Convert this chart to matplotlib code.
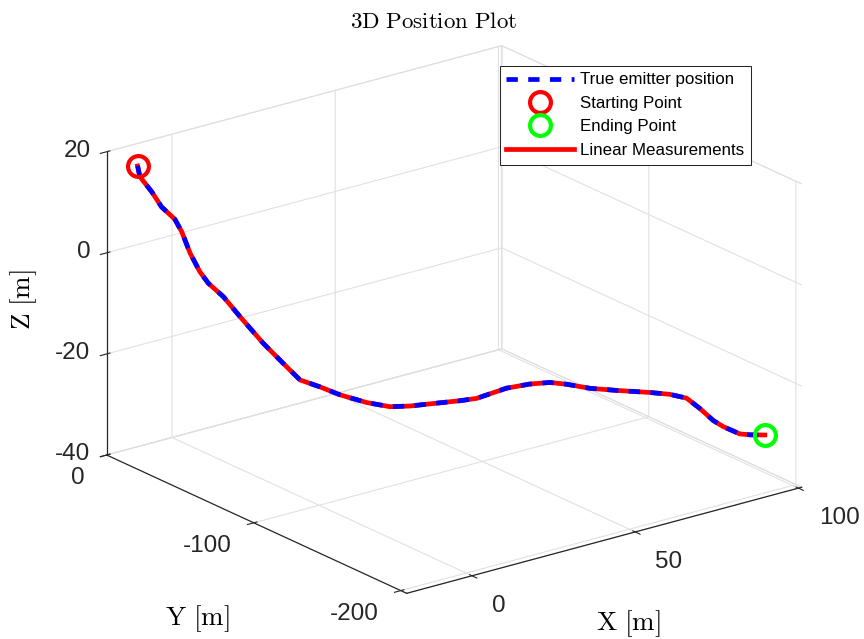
import numpy as np
import matplotlib
matplotlib.use('Agg')
import matplotlib.pyplot as plt
from mpl_toolkits.mplot3d import proj3d

# ---------------- data ----------------
x_true = [-20.0, -19.6, -17.5, -15.8, -13.5, -12.3, -10.8, -9.1, -7.6, -5.0,
          -2.1, 2.0, 5.5, 8.4, 11.9, 15.4, 20.1, 24.1, 27.6, 32.9,
          36.4, 39.3, 44.5, 48.6, 52.1, 55.0, 59.1, 63.8, 69.6, 73.1,
          76.0, 78.3, 80.7, 82.4, 85.3, 87.1, 89.7]
y_true = [-21.0, -21.7, -25.1, -28.0, -31.9, -33.9, -36.3, -39.2, -41.6, -46.0,
          -50.9, -57.7, -63.5, -68.4, -74.2, -80.0, -87.8, -94.6, -100.4, -109.2,
          -115.1, -119.9, -128.7, -135.4, -141.3, -146.2, -153.0, -160.7, -170.5, -176.3,
          -181.2, -185.0, -188.9, -191.8, -196.7, -199.7, -204.0]
z_true = [20.0, 17.9, 15.0, 12.1, 9.8, 7.4, 3.2, -0.4, -2.6, -5.1,
          -8.9, -14.0, -17.8, -20.9, -22.1, -23.5, -24.8, -25.4, -25.1, -24.2,
          -23.6, -23.0, -20.7, -19.7, -19.2, -19.4, -20.0, -20.2, -20.3, -20.5,
          -21.1, -23.0, -25.3, -26.4, -27.7, -27.8, -27.7]
# linear measurements coincide with the true path at this scale
x_meas = list(x_true)
y_meas = list(y_true)
z_meas = list(z_true)

x_ticks = [0, 50, 100]
y_ticks = [-200, -100, 0]
z_ticks = [-40, -20, 0, 20]
x_ticklabels = ['0', '50', '100']
y_ticklabels = ['-200', '-100', '0']
z_ticklabels = ['-40', '-20', '0', '20']
x_lim = (-20, 101)
y_lim = (-204, 0)
z_lim = (-40, 20)

labels = ['True emitter position', 'Starting Point', 'Ending Point', 'Linear Measurements']

# ---------------- style ----------------
plt.rcParams['font.family'] = ['Liberation Sans', 'DejaVu Sans']
plt.rcParams['mathtext.fontset'] = 'cm'
plt.rcParams['axes.unicode_minus'] = False
plt.rcParams['grid.color'] = '#dfdfdf'
plt.rcParams['grid.linewidth'] = 0.75
plt.rcParams['axes.edgecolor'] = '#262626'
plt.rcParams['axes.linewidth'] = 0.9
plt.rcParams['xtick.color'] = '#262626'
plt.rcParams['ytick.color'] = '#262626'

W, H = 864, 639
fig = plt.figure(figsize=(W / 100, H / 100), dpi=100)
ax = fig.add_axes([0, 0, 1, 1], projection='3d', proj_type='ortho')
ax.computed_zorder = False
ax.view_init(elev=20.6, azim=-127.35)
ax.set_box_aspect((1, 0.995, 0.652))

ax.set_xlim(*x_lim, view_margin=0)
ax.set_ylim(*y_lim, view_margin=0)
ax.set_zlim(*z_lim, view_margin=0)

ax.xaxis.set_tick_params(pad=11, labelsize=17.5, colors='#262626')
ax.yaxis.set_tick_params(pad=8, labelsize=17.5, colors='#262626')
ax.zaxis.set_tick_params(pad=-1.4, labelsize=17.5, colors='#262626')
ax.set_xticks(x_ticks, labels=x_ticklabels, ha='left', va='center')
ax.set_yticks(y_ticks, labels=y_ticklabels, ha='right', va='center')
ax.set_zticks(z_ticks, labels=z_ticklabels, ha='right', va='center')

for axis in (ax.xaxis, ax.yaxis, ax.zaxis):
    axis.set_pane_color((1, 1, 1, 1))
    axis.pane.set_edgecolor('#dfdfdf')
    axis.pane.set_linewidth(0.75)

lw = 3.4
meas_line, = ax.plot(x_meas, y_meas, z_meas, color='red', lw=lw, zorder=2)
true_line, = ax.plot(x_true, y_true, z_true, color='blue', lw=lw,
                     dashes=(2.4, 2.2), zorder=3)
start_pt, = ax.plot([x_true[0]], [y_true[0]], [z_true[0]], 'o', ms=15,
                    mfc='none', mec='red', mew=3, zorder=4)
end_pt, = ax.plot([x_true[-1]], [y_true[-1]], [z_true[-1]], 'o', ms=15,
                  mfc='none', mec=(0, 1, 0), mew=3, zorder=4)

ax.set_xlabel(r'$\mathrm{X\ [m]}$', fontsize=19.5, labelpad=32)
ax.set_ylabel(r'$\mathrm{Y\ [m]}$', fontsize=19.5, labelpad=44)
ax.set_zlabel(r'$\mathrm{Z\ [m]}$', fontsize=19.5, labelpad=12.5)
for axis in (ax.xaxis, ax.yaxis, ax.zaxis):
    axis.set_rotate_label(False)
ax.xaxis.label.set_rotation(0)
ax.yaxis.label.set_rotation(0)
ax.zaxis.label.set_rotation(90)
ax.xaxis._axinfo['label']['ha'] = 'right'
ax.yaxis._axinfo['label']['ha'] = 'left'

leg = ax.legend([true_line, start_pt, end_pt, meas_line], labels,
                loc='upper right', bbox_to_anchor=(751 / W, 1 - 65.7 / H),
                bbox_transform=fig.transFigure, borderaxespad=0,
                fontsize=12.2, handlelength=4.0, handletextpad=0.35,
                labelspacing=0.5, borderpad=0.4, fancybox=False,
                framealpha=1, edgecolor='#262626')
leg.get_frame().set_linewidth(0.75)

fig.suptitle(r'$\mathrm{3D\ Position\ Plot}$', x=0.502, y=1 - 21 / H,
             va='center', fontsize=16.5)

# ---------------- fit the 3D box onto the reference layout ----------------
fig.canvas.draw()
M = ax.get_proj()
cx = np.array([x_lim[0], x_lim[0], x_lim[1], x_lim[0]], float)
cy = np.array([y_lim[1], y_lim[0], y_lim[0], y_lim[1]], float)
cz = np.array([z_lim[0], z_lim[0], z_lim[0], z_lim[1]], float)
px, py, _ = proj3d.proj_transform(cx, cy, cz, M)
pix = ax.transData.transform(np.column_stack([px, py]))
fr = ax.transAxes.inverted().transform(pix)
# target corner pixels (origin bottom-left): left-bottom, front-bottom, right-bottom, left-top
tgt = np.array([[106.7, H - 455.0], [406.7, H - 593.3], [801.7, H - 487.3], [106.7, H - 151.7]])
A = np.zeros((8, 3))
b = np.zeros(8)
for i in range(4):
    A[2 * i] = [1, 0, fr[i, 0]]
    b[2 * i] = tgt[i, 0]
    A[2 * i + 1] = [0, 1, fr[i, 1]]
    b[2 * i + 1] = tgt[i, 1]
x0, y0, S = np.linalg.lstsq(A, b, rcond=None)[0]
ax.set_position([x0 / W, y0 / H, S / W, S / H])

fig.savefig('out.png', dpi=100)
